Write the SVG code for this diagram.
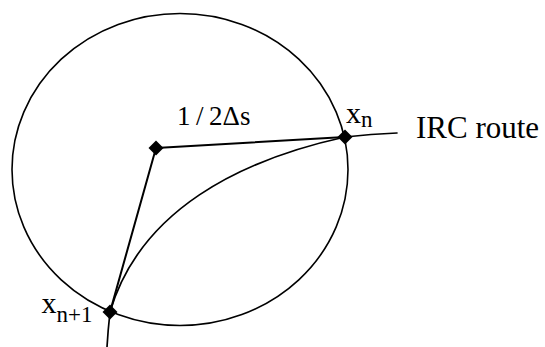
<svg xmlns="http://www.w3.org/2000/svg" xmlns:xlink="http://www.w3.org/1999/xlink" width="545" height="347" viewBox="0 0 545 347">
  <style>
    .ln { fill: none; stroke: #000; stroke-linecap: round; stroke-linejoin: round; }
    .t { font-family: 'Liberation Serif', 'Times New Roman', serif; fill: #000; }
  </style>
  <defs>
    <path id="dia" d="M0,-7.5 L7.5,0 L0,7.5 L-7.5,0 Z" fill="#000"/>
  </defs>
  <rect width="545" height="347" fill="#fff"/>
  <g id="circle">
    <ellipse class="ln" cx="180" cy="169.5" rx="168" ry="156" stroke-width="1.6"/>
  </g>
  <g id="route">
    <path class="ln" stroke-width="1.7" d="M397,133 Q371,134 345,137 C240,160 140,210 110,312 Q108,330 107,347"/>
    <text class="t" font-size="31" x="416" y="138.3">IRC route</text>
  </g>
  <g id="connectors">
    <line class="ln" stroke-width="2" x1="156" y1="148" x2="345" y2="137"/>
    <line class="ln" stroke-width="2" x1="156" y1="148" x2="110" y2="312"/>
  </g>
  <g id="center">
    <use xlink:href="#dia" x="156" y="148"/>
    <text class="t" font-size="27" x="177" y="125">1<tspan dx="5.5">/</tspan><tspan dx="5.5">2Δs</tspan></text>
  </g>
  <g id="xn">
    <use xlink:href="#dia" x="345" y="137"/>
    <text class="t" font-size="30" x="346" y="123.3">x<tspan font-size="23" dy="3.4">n</tspan></text>
  </g>
  <g id="xn1">
    <use xlink:href="#dia" x="110" y="312"/>
    <text class="t" font-size="30" x="41.5" y="313.3">x<tspan font-size="23" dy="8.4">n+1</tspan></text>
  </g>
</svg>
